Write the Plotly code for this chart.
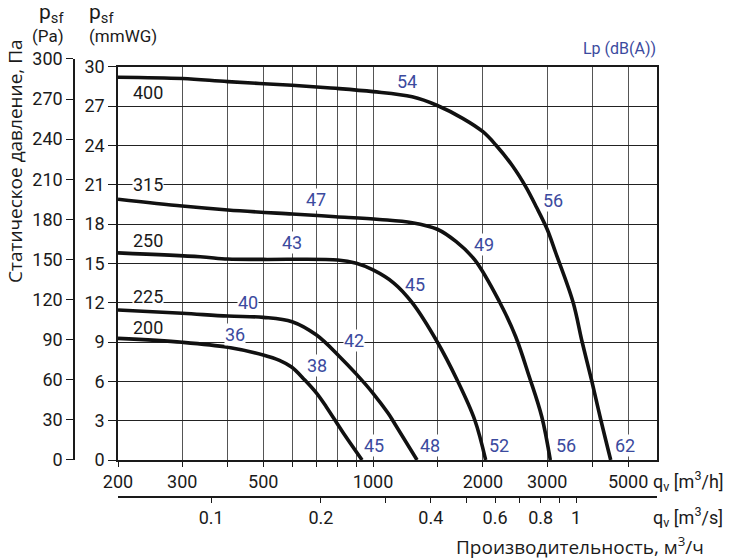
import math
import plotly.graph_objects as go

# ---------------- data (q in m3/h, static pressure in mmWG) ----------------
q_400 = [200, 300, 400, 600, 790, 1000, 1280, 1500, 1760, 2000, 2170, 2420, 2620, 2800, 3000, 3170, 3530, 3740, 3970, 4210, 4480]
p_400 = [29.2, 29.1, 28.86, 28.58, 28.35, 28.1, 27.7, 27.04, 26.06, 25.04, 24.03, 22.37, 20.85, 19.32, 17.6, 15.77, 12.07, 9.02, 6.1, 3.05, 0]

q_315 = [200, 300, 400, 600, 790, 1040, 1280, 1500, 1690, 1900, 2220, 2460, 2680, 2900, 3060]
p_315 = [19.89, 19.37, 19.07, 18.76, 18.56, 18.35, 18.1, 17.6, 16.65, 15.26, 12.07, 9.4, 6.35, 3.3, 0]

q_250 = [200, 336, 400, 500, 800, 900, 1000, 1140, 1280, 1500, 1700, 1900, 2035]
p_250 = [15.8, 15.5, 15.33, 15.3, 15.26, 15.0, 14.5, 13.5, 12.0, 9.0, 6.1, 3.05, 0]

q_225 = [200, 300, 400, 500, 600, 700, 810, 900, 1000, 1100, 1150, 1320]
p_225 = [11.44, 11.19, 10.98, 10.88, 10.55, 9.53, 7.88, 6.55, 5.09, 3.56, 2.71, 0]

q_200 = [200, 300, 400, 500, 554, 598, 650, 700, 744, 829, 933]
p_200 = [9.28, 8.98, 8.6, 8.01, 7.6, 7.09, 6.1, 5.1, 4.07, 2.06, 0]

sizes = ["400", "315", "250", "225", "200"]
curves_q = [q_400, q_315, q_250, q_225, q_200]
curves_p = [p_400, p_315, p_250, p_225, p_200]

# sound level labels (dB(A))
db_text = ["54", "56", "62", "47", "49", "56", "43", "45", "52", "40", "42", "48", "36", "38", "45"]
db_q = [1242, 3110, 4916, 696, 2017, 3372, 598, 1306, 2216, 455, 884, 1436, 418, 700, 1009]
db_p = [28.85, 19.83, 1.14, 19.9, 16.4, 1.14, 16.6, 13.35, 1.14, 11.98, 9.08, 1.14, 9.6, 7.2, 1.14]

size_q = 241
size_p = [28.03, 21.01, 16.74, 12.5, 10.1]

# axis ticks
qh_ticks = [200, 300, 400, 500, 600, 700, 800, 900, 1000, 1500, 2000, 3000, 4000, 5000]
qh_text = ["200", "300", "", "500", "", "", "", "", "1000", "", "2000", "3000", "", "5000"]
qs_ticks = [0.1, 0.2, 0.3, 0.4, 0.5, 0.6, 0.7, 0.8, 0.9, 1.0]
qs_text = ["0.1", "0.2", "", "0.4", "", "0.6", "", "0.8", "", "1"]
mm_ticks = list(range(0, 31, 3))
pa_ticks = list(range(0, 301, 30))
PA_PER_MM = 9.80665

# label backgrounds (white box where a label interrupts a grid line)
db_bg = [False, True, True, True, True, False, True, False, False, True, True, True, True, True, True]
size_bg = [False, True, False, True, False]

# ---------------- layout geometry ----------------
W, H = 730, 560
ML, MR, MT, MB = 0, 73, 0, 64
PW, PH = W - ML - MR, H - MT - MB


def fx(px):
    return (px - ML) / PW


def fy(py):
    return (PH + MT - py) / PH


y_bot, y_top = fy(460), fy(66.7)
pa_top = y_bot + (y_top - y_bot) * 300 / (30 * PA_PER_MM)

NUM_FONT = "Roboto"
BLUE = "#3b4a9e"
INK = "#1a1a1a"

fig = go.Figure()
for qv, pv in zip(curves_q, curves_p):
    fig.add_trace(go.Scatter(x=qv, y=pv, mode="lines",
                             line=dict(color="#111111", width=3.6, shape="spline", smoothing=1.0),
                             hoverinfo="skip", showlegend=False, xaxis="x", yaxis="y"))

# dummy traces so the auxiliary axes get drawn
fig.add_trace(go.Scatter(x=[1000], y=[0.5], mode="markers", marker=dict(opacity=0),
                         hoverinfo="skip", showlegend=False, xaxis="x2", yaxis="y2"))
fig.add_trace(go.Scatter(x=[0.5], y=[10], mode="markers", marker=dict(opacity=0),
                         hoverinfo="skip", showlegend=False, xaxis="x4", yaxis="y3"))

xr = [math.log10(200), math.log10(6000)]
tickfont = dict(family=NUM_FONT, size=18, color=INK)

fig.update_layout(
    width=W, height=H, template="none",
    margin=dict(l=ML, r=MR, t=MT, b=MB, pad=0),
    paper_bgcolor="white", plot_bgcolor="white",
    showlegend=False,
    xaxis=dict(type="log", range=xr, domain=[fx(118), 1.0], anchor="y",
               tickmode="array", tickvals=qh_ticks, ticktext=qh_text,
               ticks="outside", ticklen=5, tickwidth=1, tickcolor=INK,
               showgrid=True, gridcolor="#555555", gridwidth=1,
               showline=True, linecolor=INK, linewidth=1.5, mirror=True,
               tickfont=tickfont, automargin=False, zeroline=False),
    yaxis=dict(range=[0, 30], domain=[y_bot, y_top], anchor="x",
               tickmode="array", tickvals=mm_ticks,
               ticks="outside", ticklen=8, tickwidth=1, tickcolor=INK,
               showgrid=True, gridcolor="#222222", gridwidth=1,
               showline=True, linecolor=INK, linewidth=1.5, mirror=True,
               tickfont=tickfont, automargin=False, zeroline=False),
    xaxis2=dict(type="log", range=xr, domain=[fx(118), 1.0], anchor="y2",
                tickmode="array", tickvals=[v * 3600 for v in qs_ticks], ticktext=qs_text,
                ticks="outside", ticklen=5, tickwidth=1, tickcolor=INK,
                showgrid=False, showline=True, linecolor=INK, linewidth=1.5,
                tickfont=tickfont, automargin=False, zeroline=False),
    yaxis2=dict(range=[0, 1], domain=[0, 0.004], anchor="x2", visible=False),
    xaxis4=dict(range=[0, 1], domain=[fx(75), fx(76)], anchor="y3", visible=False),
    yaxis3=dict(range=[0, 300], domain=[y_bot, pa_top], anchor="x4", side="left",
                tickmode="array", tickvals=pa_ticks,
                ticks="outside", ticklen=7, tickwidth=1, tickcolor=INK,
                showgrid=False, showline=True, linecolor=INK, linewidth=1.5,
                tickfont=tickfont, automargin=False, zeroline=False),
)

ann = []
# sizes (black)
for t, p, bg in zip(sizes, size_p, size_bg):
    ann.append(dict(x=math.log10(size_q), y=p, xref="x", yref="y", text=t, showarrow=False,
                    font=dict(family=NUM_FONT, size=18, color=INK),
                    bgcolor="white" if bg else "rgba(0,0,0,0)", borderpad=0))
# dB(A) labels (blue)
for t, qv, p, bg in zip(db_text, db_q, db_p, db_bg):
    ann.append(dict(x=math.log10(qv), y=p, xref="x", yref="y", text=t, showarrow=False,
                    font=dict(family=NUM_FONT, size=18, color=BLUE),
                    bgcolor="white" if bg else "rgba(0,0,0,0)", borderpad=0))

# header texts
ann += [
    dict(x=fx(66), y=fy(14), xref="paper", yref="paper", xanchor="right", yanchor="middle",
         text="p<sub>sf</sub>", showarrow=False, font=dict(family=NUM_FONT, size=21, color=INK)),
    dict(x=fx(66), y=fy(36), xref="paper", yref="paper", xanchor="right", yanchor="middle",
         text="(Pa)", showarrow=False, font=dict(family=NUM_FONT, size=17, color=INK)),
    dict(x=fx(87), y=fy(14), xref="paper", yref="paper", xanchor="left", yanchor="middle",
         text="p<sub>sf</sub>", showarrow=False, font=dict(family=NUM_FONT, size=21, color=INK)),
    dict(x=fx(87), y=fy(36), xref="paper", yref="paper", xanchor="left", yanchor="middle",
         text="(mmWG)", showarrow=False, font=dict(family=NUM_FONT, size=17, color=INK)),
    dict(x=fx(658), y=fy(48), xref="paper", yref="paper", xanchor="right", yanchor="middle",
         text="Lp (dB(A))", showarrow=False, font=dict(family=NUM_FONT, size=16, color=BLUE)),
    dict(x=fx(651), y=fy(481), xref="paper", yref="paper", xanchor="left", yanchor="middle",
         text="q<sub>v</sub> [m<sup>3</sup>/h]", showarrow=False,
         font=dict(family=NUM_FONT, size=18, color=INK)),
    dict(x=fx(651), y=fy(517), xref="paper", yref="paper", xanchor="left", yanchor="middle",
         text="q<sub>v</sub> [m<sup>3</sup>/s]", showarrow=False,
         font=dict(family=NUM_FONT, size=18, color=INK)),
    dict(x=fx(706), y=fy(546), xref="paper", yref="paper", xanchor="right", yanchor="middle",
         text="Производительность, м<sup>3</sup>/ч", showarrow=False,
         font=dict(family="Open Sans", size=19, color=INK)),
    dict(x=fx(15), y=fy(161), xref="paper", yref="paper", xanchor="center", yanchor="middle",
         text="Статическое давление, Па", textangle=-90, showarrow=False,
         font=dict(family="Open Sans", size=19, color=INK)),
]
fig.update_layout(annotations=ann)

fig.write_html("out.html")
